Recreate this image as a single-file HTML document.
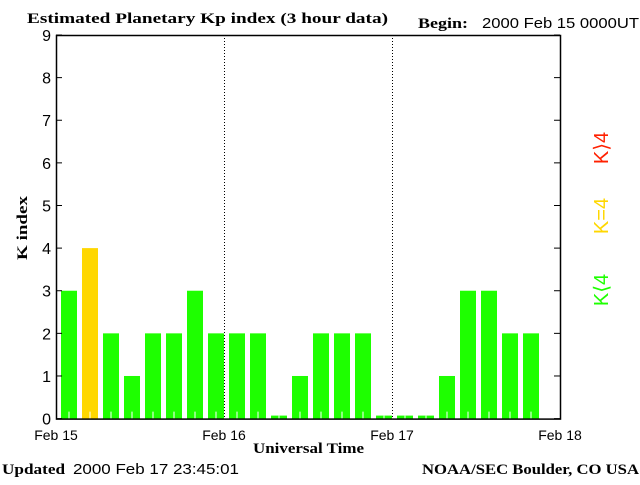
<!DOCTYPE html>
<html><head><meta charset="utf-8"><style>
body{margin:0;background:#fff;}
svg text{font-family:"Liberation Sans",sans-serif;}
.serif{font-family:"Liberation Serif",serif;font-weight:bold;}
</style></head><body>
<svg width="640" height="480" xmlns="http://www.w3.org/2000/svg">
<rect width="640" height="480" fill="#fff"/>
<text class="serif" x="27" y="23" font-size="15" textLength="361" lengthAdjust="spacingAndGlyphs">Estimated Planetary Kp index (3 hour data)</text>
<text class="serif" x="418" y="28" font-size="15" textLength="50" lengthAdjust="spacingAndGlyphs">Begin:</text>
<text x="482" y="28" font-size="15" textLength="157" lengthAdjust="spacingAndGlyphs">2000 Feb 15 0000UT</text>
<g id="bars"></g>
<g id="axes"></g>
<text class="serif" x="0" y="0" font-size="15" textLength="64" lengthAdjust="spacingAndGlyphs" transform="translate(27,228) rotate(-90)" text-anchor="middle">K index</text>
<text class="serif" x="253" y="453" font-size="15" textLength="111" lengthAdjust="spacingAndGlyphs">Universal Time</text>
<text class="serif" x="2" y="474" font-size="15" textLength="63" lengthAdjust="spacingAndGlyphs">Updated</text>
<text x="73" y="474" font-size="15" textLength="166" lengthAdjust="spacingAndGlyphs">2000 Feb 17 23:45:01</text>
<text class="serif" x="422" y="474" font-size="15" textLength="217" lengthAdjust="spacingAndGlyphs">NOAA/SEC Boulder, CO USA</text>
<text x="0" y="0" font-size="20" fill="#ff2000" transform="translate(608,148) rotate(-90)" text-anchor="middle">K⟩4</text>
<text x="0" y="0" font-size="20" fill="#ffd700" transform="translate(608,216) rotate(-90)" text-anchor="middle">K=4</text>
<text x="0" y="0" font-size="20" fill="#1eff00" transform="translate(608,290) rotate(-90)" text-anchor="middle">K⟨4</text>
</svg>
<script>
const kpValues=[3,4,2,1,2,2,3,2, 2,2,0,1,2,2,2,0, 0,0,1,3,3,2,2];
const yTicks=[0,1,2,3,4,5,6,7,8,9];
const dayLabels=["Feb 15","Feb 16","Feb 17","Feb 18"];
const NS="http://www.w3.org/2000/svg";
const X0=56,X1=560,Y0=418.6,YT=35;
const slots=24;
const xs=i=>X0+(X1-X0)*i/slots;
const ys=v=>Y0-(Y0-YT)*v/9;
function mk(t,a,p){const e=document.createElementNS(NS,t);for(const k in a)e.setAttribute(k,a[k]);p.appendChild(e);return e;}
const bars=document.getElementById('bars'),axes=document.getElementById('axes');
kpValues.forEach((v,i)=>{
  const x=xs(i)+5,w=16;
  const top=v===0?Y0-3:ys(v);
  const col=v>4?"#ff2000":(v===4?"#ffd700":"#1eff00");
  const r=mk('rect',{x:x,y:top,width:w,height:Y0-top,fill:col},bars);
  
  
  const l=mk('line',{x1:x+w/2,x2:x+w/2,y1:Y0,y2:Math.max(top,Y0-7),stroke:"#fff","stroke-width":1},bars);
  
  
});
[1,2].forEach(d=>{
  const x=X0+(X1-X0)*d/3;
  const l=mk('line',{x1:x+0.5,x2:x+0.5,y1:YT,y2:Y0,stroke:"#000","stroke-dasharray":"1,2"},axes);
  
  
});
const fr=mk('rect',{x:X0+0.5,y:YT+0.5,width:X1-X0,height:Y0-YT,fill:"none",stroke:"#000","stroke-width":1.5},axes);


yTicks.forEach(t=>{
  const y=ys(t);
  mk('line',{x1:X0,x2:X0+6,y1:y,y2:y,stroke:"#000"},axes);
  mk('line',{x1:X1-6,x2:X1,y1:y,y2:y,stroke:"#000"},axes);
  const tx=mk('text',{x:X0-5,y:y+6,"font-size":16,"text-anchor":"end"},axes);
  tx.textContent=t;
  
  
});
dayLabels.forEach((d,i)=>{
  const x=X0+(X1-X0)*i/3;
  const tx=mk('text',{x:x,y:440,"font-size":14,"text-anchor":"middle"},axes);
  tx.textContent=d;
  
  
});
</script>
</body></html>
